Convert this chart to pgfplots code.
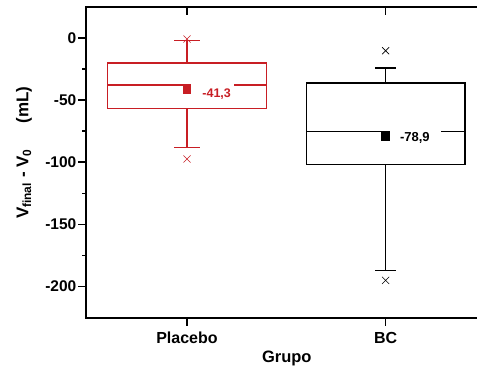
\documentclass[border=0pt]{standalone}
\usepackage{pgfplots}
\pgfplotsset{compat=1.18}
\usepackage{fontspec}
\setmainfont{Liberation Sans}
\definecolor{pred}{RGB}{200,30,36}
\begin{document}
\begin{tikzpicture}
\begin{axis}[
  at={(0,0)}, anchor=south west,
  width=390.5pt, height=311pt, scale only axis,
  xmin=0.494, xmax=2.46, ymin=-225, ymax=25,
  axis line style={draw=none},
  clip=false,
  xtick={1,2}, xticklabels={Placebo,BC},
  ytick={-200,-150,-100,-50,0}, yticklabels={-200,-150,-100,-50,0},
  minor ytick={-175,-125,-75,-25},
  xtick pos=bottom, ytick pos=left, tick align=outside,
  major tick length=8pt, minor tick length=4pt,
  tick style={black, line width=1.6pt},
  xticklabel style={font=\fontsize{16}{16}\selectfont\bfseries, yshift=-2.7pt},
  yticklabel style={font=\fontsize{15.5}{15.5}\selectfont\bfseries, inner xsep=2pt},
  every axis x label/.style={at={(axis description cs:0.513,0)}, anchor=base, yshift=-45pt, font=\fontsize{16.5}{16.5}\selectfont\bfseries},
  every axis y label/.style={at={(axis description cs:-0.16,0.53)}, rotate=90, anchor=center, font=\fontsize{17}{17}\selectfont\bfseries},
  xlabel={Grupo},
  ylabel={V\textsubscript{final} - V\textsubscript{0}\hspace{1.5em}(mL)},
  every axis plot/.append style={line join=miter},
]
% Placebo box
\addplot[pred, line width=1.2pt] coordinates {(0.6,-57) (1.4,-57) (1.4,-20.3) (0.6,-20.3) (0.6,-57)};
\addplot[pred, line width=1.2pt] coordinates {(0.6,-38) (1.4,-38)};
\addplot[pred, line width=1.2pt] coordinates {(1,-20.3) (1,-2.2)};
\addplot[pred, line width=1.2pt] coordinates {(0.937,-2.2) (1.063,-2.2)};
\addplot[pred, line width=1.2pt] coordinates {(1,-57) (1,-88)};
\addplot[pred, line width=1.2pt] coordinates {(0.937,-88) (1.063,-88)};
\addplot[only marks, pred, mark=x, mark size=5pt, mark options={line width=0.6pt}] coordinates {(1,-1) (1,-97.4)};
\addplot[only marks, mark=square*, mark size=4.2pt, pred,
  nodes near coords={\hspace*{9pt}-41,3\hspace*{1pt}},
  every node near coord/.style={anchor=west, fill=white, inner xsep=2pt, inner ysep=4.5pt,
    xshift=4.2pt, yshift=-4.45pt, font=\fontsize{12.5}{12.5}\selectfont\bfseries, text=pred}]
  coordinates {(1,-41.3)};
% BC box
\addplot[black, line width=1.2pt] coordinates {(1.6,-102) (2.4,-102) (2.4,-36.4) (1.6,-36.4) (1.6,-102)};
\addplot[black, line width=1.2pt] coordinates {(1.6,-75.2) (2.4,-75.2)};
\addplot[black, line width=1.2pt] coordinates {(2,-36.4) (2,-24.3)};
\addplot[black, line width=1.2pt] coordinates {(1.948,-24.3) (2.052,-24.3)};
\addplot[black, line width=1.2pt] coordinates {(2,-102) (2,-187)};
\addplot[black, line width=1.2pt] coordinates {(1.948,-187) (2.052,-187)};
\addplot[only marks, black, mark=x, mark size=5pt, mark options={line width=0.6pt}] coordinates {(2,-10.4) (2,-195)};
\addplot[only marks, mark=square*, mark size=4.2pt, black,
  nodes near coords={\hspace*{8pt}-78,9\hspace*{9pt}},
  every node near coord/.style={anchor=west, fill=white, inner xsep=2pt, inner ysep=3pt,
    xshift=4.2pt, yshift=-2.1pt, font=\fontsize{13}{13}\selectfont\bfseries, text=black}]
  coordinates {(2,-78.9)};
\draw[line width=2pt, line join=miter] (rel axis cs:1,1) -- (rel axis cs:0,1) -- (rel axis cs:0,0) -- (rel axis cs:1,0);
\draw[black, line width=1.6pt] (axis cs:1,25) -- ([yshift=-8pt]axis cs:1,25);
\draw[black, line width=1.6pt] (axis cs:2,25) -- ([yshift=-8pt]axis cs:2,25);
\end{axis}
\pgfresetboundingbox
\path (-86.5pt,-52.3pt) rectangle (390.5pt,317.7pt);
\end{tikzpicture}
\end{document}
